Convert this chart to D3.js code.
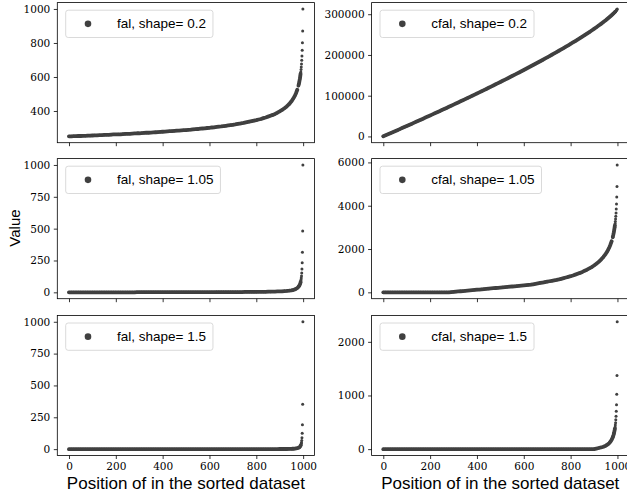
<!DOCTYPE html>
<html>
<head>
<meta charset="utf-8">
<script src="https://cdn.jsdelivr.net/npm/d3@7/dist/d3.min.js"></script>
<style>
  body { margin: 0; background: #fff; }
  svg { display: block; }
</style>
</head>
<body>
<div id="chart"></div>
<script>
// position in the sorted dataset (sampled)
var positions = [
  0, 10, 20, 30, 40, 50, 60, 70, 80, 90,
  100, 110, 120, 130, 140, 150, 160, 170, 180, 190,
  200, 210, 220, 230, 240, 250, 260, 270, 280, 290,
  300, 310, 320, 330, 340, 350, 360, 370, 380, 390,
  400, 410, 420, 430, 440, 450, 460, 470, 480, 490,
  500, 510, 520, 530, 540, 550, 560, 570, 580, 590,
  600, 610, 620, 630, 640, 650, 660, 670, 680, 690,
  700, 710, 720, 730, 740, 750, 760, 770, 780, 790,
  800, 810, 820, 830, 840, 850, 860, 870, 880, 890,
  900, 910, 920, 930, 940, 950,
  955, 960, 965, 970, 975, 980, 982, 984, 986, 988,
  989, 990, 991, 992, 993, 994, 995, 996, 997, 998, 999
];

var falShape02 = [
  251, 251, 252, 252, 253, 253, 254, 254, 255, 255,
  256, 257, 257, 258, 258, 259, 260, 260, 261, 262,
  262, 263, 263, 264, 265, 266, 266, 267, 268, 269,
  269, 270, 271, 272, 272, 273, 274, 275, 276, 277,
  278, 279, 280, 281, 282, 283, 284, 285, 286, 287,
  288, 289, 290, 292, 293, 294, 296, 297, 298, 300,
  301, 303, 304, 306, 308, 309, 311, 313, 315, 317,
  319, 321, 324, 326, 328, 331, 334, 337, 340, 343,
  346, 350, 353, 358, 362, 367, 372, 377, 383, 390,
  398, 406, 416, 427, 440, 457,
  467, 478, 491, 506, 525, 549, 560, 574, 589, 608,
  619, 630, 644, 659, 677, 698, 724, 757, 802, 870, 1000
];

var cfalShape02 = [
  251, 2770, 5283, 7800, 10318, 12854, 15381, 17928, 20476, 23026,
  25580, 28148, 30719, 33293, 35871, 38454, 41053, 43645, 46254, 48868,
  51488, 54104, 56738, 59378, 62025, 64681, 67336, 70000, 72673, 75355,
  78039, 80741, 83448, 86155, 88875, 91600, 94338, 97080, 99838, 102601,
  105373, 108159, 110948, 113746, 116555, 119381, 122213, 125051, 127903, 130769,
  133644, 136529, 139425, 142334, 145256, 148194, 151141, 154100, 157078, 160070,
  163073, 166094, 169129, 172180, 175250, 178335, 181435, 184559, 187698, 190858,
  194038, 197241, 200464, 203713, 206981, 210278, 213600, 216954, 220334, 223745,
  227195, 230674, 234189, 237744, 241340, 244981, 248673, 252416, 256220, 260086,
  264024, 268041, 272150, 276361, 280698, 285180,
  287597, 289962, 292389, 294887, 297471, 300165, 301279, 302420, 303590, 304796,
  305415, 306045, 306689, 307348, 308025, 308723, 309447, 310204, 311006, 311876, 312876
];

var falShape105 = [
  0, 0, 0, 0, 0, 0, 0, 0, 0, 0,
  0, 0, 0, 0, 0, 0, 0, 0, 0, 0,
  0, 0, 0, 0, 0, 0, 0, 0, 0, 1,
  1, 1, 1, 1, 1, 1, 1, 1, 1, 1,
  1, 1, 1, 1, 1, 1, 1, 1, 1, 1,
  1, 1, 1, 1, 1, 1, 1, 1, 1, 1,
  1, 1, 1, 2, 2, 2, 2, 2, 2, 2,
  2, 2, 2, 2, 2, 3, 3, 3, 3, 3,
  3, 4, 4, 4, 4, 5, 5, 6, 6, 7,
  7, 8, 10, 11, 13, 16,
  18, 20, 23, 28, 34, 43, 48, 54, 62, 73,
  80, 89, 99, 112, 129, 152, 184, 233, 315, 482, 1000
];

var cfalShape105 = [
  0, 0, 0, 0, 0, 0, 0, 0, 0, 0,
  0, 0, 0, 0, 0, 0, 0, 0, 0, 0,
  0, 0, 0, 0, 0, 0, 0, 0, 0, 10,
  20, 30, 40, 50, 60, 70, 80, 90, 100, 110,
  120, 130, 140, 150, 160, 170, 180, 190, 200, 210,
  220, 230, 240, 250, 260, 270, 280, 290, 300, 310,
  320, 330, 340, 352, 372, 392, 412, 432, 452, 472,
  492, 512, 532, 552, 572, 595, 625, 655, 685, 715,
  745, 778, 818, 858, 898, 944, 994, 1045, 1105, 1168,
  1238, 1318, 1408, 1512, 1633, 1779,
  1864, 1960, 2070, 2200, 2356, 2549, 2642, 2747, 2867, 3007,
  3087, 3176, 3275, 3387, 3516, 3668, 3852, 4085, 4400, 4882, 5882
];

var falShape15 = [
  0, 0, 0, 0, 0, 0, 0, 0, 0, 0,
  0, 0, 0, 0, 0, 0, 0, 0, 0, 0,
  0, 0, 0, 0, 0, 0, 0, 0, 0, 0,
  0, 0, 0, 0, 0, 0, 0, 0, 0, 0,
  0, 0, 0, 0, 0, 0, 0, 0, 0, 0,
  0, 0, 0, 0, 0, 0, 0, 0, 0, 0,
  0, 0, 0, 0, 0, 0, 0, 0, 0, 0,
  0, 0, 0, 0, 0, 0, 0, 0, 0, 0,
  0, 0, 0, 0, 0, 0, 0, 0, 0, 0,
  1, 1, 1, 1, 2, 2,
  3, 3, 4, 6, 8, 11, 13, 15, 19, 24,
  27, 31, 37, 44, 53, 68, 89, 125, 192, 353, 1000
];

var cfalShape15 = [
  0, 0, 0, 0, 0, 0, 0, 0, 0, 0,
  0, 0, 0, 0, 0, 0, 0, 0, 0, 0,
  0, 0, 0, 0, 0, 0, 0, 0, 0, 0,
  0, 0, 0, 0, 0, 0, 0, 0, 0, 0,
  0, 0, 0, 0, 0, 0, 0, 0, 0, 0,
  0, 0, 0, 0, 0, 0, 0, 0, 0, 0,
  0, 0, 0, 0, 0, 0, 0, 0, 0, 0,
  0, 0, 0, 0, 0, 0, 0, 0, 0, 0,
  0, 0, 0, 0, 0, 0, 0, 0, 0, 0,
  1, 11, 21, 31, 44, 64,
  78, 93, 113, 139, 173, 220, 245, 274, 310, 355,
  382, 413, 450, 494, 547, 615, 704, 829, 1021, 1374, 2374
];

var xTicks = [0, 200, 400, 600, 800, 1000];
var yTicksFal02 = [400, 600, 800, 1000];
var yTicksCfal02 = [0, 100000, 200000, 300000];
var yTicksFal105 = [0, 250, 500, 750, 1000];
var yTicksCfal105 = [0, 2000, 4000, 6000];
var yTicksFal15 = [0, 250, 500, 750, 1000];
var yTicksCfal15 = [0, 1000, 2000];

function init(){
    var w = 627;
    var h = 499;

    var colX = [57.3, 371.6];
    var rowY = [2.6, 158.6, 315.4];
    var pw = 257.3;
    var ph = 140.1;
    var dotColor = "#404040";
    var sansFont = "'Liberation Sans', Arial, sans-serif";
    var serifFont = "'DejaVu Serif', serif";

    var svg = d3.select("#chart")
                .append("svg")
                .attr("width", w)
                .attr("height", h);

    var panels = [
        {row: 0, col: 0, values: falShape02, ticks: yTicksFal02, label: "fal, shape= 0.2"},
        {row: 0, col: 1, values: cfalShape02, ticks: yTicksCfal02, label: "cfal, shape= 0.2"},
        {row: 1, col: 0, values: falShape105, ticks: yTicksFal105, label: "fal, shape= 1.05"},
        {row: 1, col: 1, values: cfalShape105, ticks: yTicksCfal105, label: "cfal, shape= 1.05"},
        {row: 2, col: 0, values: falShape15, ticks: yTicksFal15, label: "fal, shape= 1.5"},
        {row: 2, col: 1, values: cfalShape15, ticks: yTicksCfal15, label: "cfal, shape= 1.5"}
    ];

    // matplotlib-like 5% margins
    function pad(ext){
        var m = (ext[1] - ext[0]) * 0.05;
        return [ext[0] - m, ext[1] + m];
    }

    panels.forEach(function(p){
        var g = svg.append("g")
                   .attr("transform", "translate(" + colX[p.col] + "," + rowY[p.row] + ")");

        var x = d3.scaleLinear()
                  .domain(pad(d3.extent(positions)))
                  .range([0, pw]);

        var y = d3.scaleLinear()
                  .domain(pad(d3.extent(p.values)))
                  .range([ph, 0]);

        // dense stretches of markers merge into a band, like the 1000 overlapping dots;
        // the last ten stay as separate dots
        var pts = positions.map(function(d, i){ return [x(d), y(p.values[i])]; });
        var segs = [];
        var cur = [pts[0]];
        for (var i = 1; i < pts.length; i++){
            var dx = pts[i][0] - pts[i-1][0];
            var dy = pts[i][1] - pts[i-1][1];
            if (Math.sqrt(dx * dx + dy * dy) > 4.2 || positions[i] >= 990){
                segs.push(cur);
                cur = [];
            }
            cur.push(pts[i]);
        }
        segs.push(cur);

        g.selectAll("path.band")
         .data(segs.filter(function(s){ return s.length > 1; }))
         .enter()
         .append("path")
         .attr("class", "band")
         .attr("d", d3.line())
         .attr("fill", "none")
         .attr("stroke", dotColor)
         .attr("stroke-width", 3.8)
         .attr("stroke-linecap", "round")
         .attr("stroke-linejoin", "round");

        g.selectAll("circle.pt")
         .data(positions)
         .enter()
         .append("circle")
         .attr("class", "pt")
         .attr("cx", function(d){ return x(d); })
         .attr("cy", function(d, i){ return y(p.values[i]); })
         .attr("r", 1.5)
         .attr("fill", dotColor);

        // axes
        var xAxis = d3.axisBottom(x)
                      .tickValues(xTicks)
                      .tickSize(3.5)
                      .tickPadding(3.5)
                      .tickFormat(d3.format("d"));
        if (p.row < 2) xAxis.tickFormat("");

        g.append("g")
         .attr("transform", "translate(0," + ph + ")")
         .call(xAxis);

        g.append("g")
         .call(d3.axisLeft(y)
                 .tickValues(p.ticks)
                 .tickSize(3.5)
                 .tickPadding(3.5)
                 .tickFormat(d3.format("d")));

        g.selectAll(".domain").remove();
        g.selectAll(".tick line")
         .attr("stroke", "#000")
         .attr("stroke-width", 0.8);
        g.selectAll(".tick text")
         .style("font-family", serifFont)
         .style("font-size", "10.5px")
         .style("fill", "#000");

        // frame
        g.append("rect")
         .attr("width", pw)
         .attr("height", ph)
         .attr("fill", "none")
         .attr("stroke", "#000")
         .attr("stroke-width", 0.8);

        // legend
        var lg = g.append("g")
                  .attr("transform", "translate(8.4,7.6)");

        var box = lg.append("rect")
                    .attr("height", 27.3)
                    .attr("rx", 2.5)
                    .attr("fill", "#fff")
                    .attr("fill-opacity", 0.8)
                    .attr("stroke", "#d0d0d0")
                    .attr("stroke-width", 0.8);

        lg.append("circle")
          .attr("cx", 22.3)
          .attr("cy", 13.65)
          .attr("r", 3.3)
          .attr("fill", dotColor);

        var txt = lg.append("text")
                    .attr("x", 51.3)
                    .attr("y", 18.3)
                    .text(p.label)
                    .style("font-family", sansFont)
                    .style("font-size", "13.5px")
                    .style("fill", "#000");

        box.attr("width", 51.3 + txt.node().getComputedTextLength() + 7);
    });

    // y label
    svg.append("text")
       .attr("transform", "translate(14.5,228) rotate(-90)")
       .attr("text-anchor", "middle")
       .attr("dominant-baseline", "central")
       .text("Value")
       .style("font-family", sansFont)
       .style("font-size", "15px");

    // x labels
    colX.forEach(function(cx){
        svg.append("text")
           .attr("x", cx + pw / 2)
           .attr("y", 489)
           .attr("text-anchor", "middle")
           .text("Position of in the sorted dataset")
           .style("font-family", sansFont)
           .style("font-size", "17px");
    });
}

window.onload = init;
</script>
</body>
</html>
